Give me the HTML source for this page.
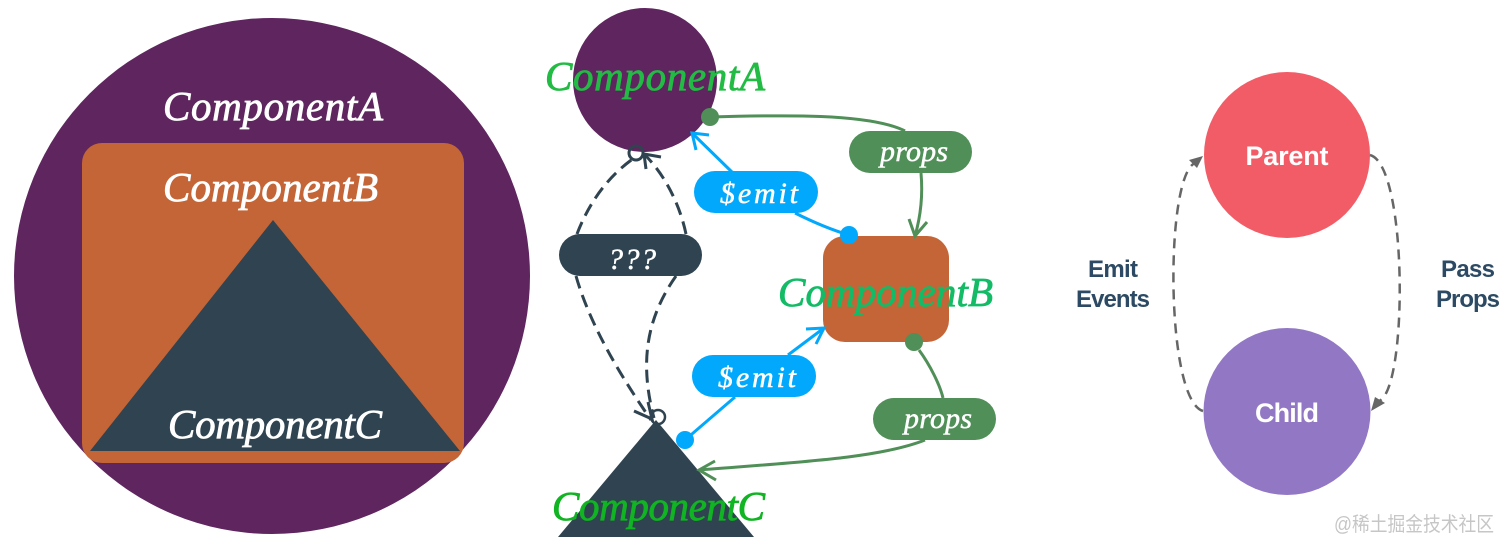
<!DOCTYPE html>
<html><head><meta charset="utf-8"><style>
html,body{margin:0;padding:0;background:#fff;width:1512px;height:551px;overflow:hidden}
svg{display:block}
.h{font-family:"Liberation Serif",serif;font-style:italic;font-size:41px;stroke-width:.8;}
.w{fill:#fff;stroke:#fff}
.s{font-family:"Liberation Serif",serif;font-style:italic;font-size:30px;fill:#fff;stroke:#fff;stroke-width:.5;text-anchor:middle}
.r{font-family:"Liberation Sans",sans-serif;font-weight:bold;text-anchor:middle}
</style></head><body>
<svg width="1512" height="551" viewBox="0 0 1512 551" xmlns="http://www.w3.org/2000/svg">
<rect width="1512" height="551" fill="#fff"/>
<!-- Left -->
<circle cx="272" cy="276" r="258" fill="#5f255f"/>
<rect x="82" y="143" width="382" height="320" rx="20" fill="#c46538"/>
<polygon points="273,220 90,451 460,451" fill="#2f4350"/>
<text class="h w" x="163" y="120" textLength="220" lengthAdjust="spacing">ComponentA</text>
<text class="h w" x="163" y="201" textLength="215" lengthAdjust="spacing">ComponentB</text>
<text class="h w" x="168" y="438" textLength="214" lengthAdjust="spacing">ComponentC</text>
<!-- Middle shapes -->
<circle cx="645" cy="80" r="72" fill="#5f255f"/>
<circle cx="658" cy="417" r="7" fill="#fff" stroke="#2f4350" stroke-width="2.5"/>
<polygon points="656,420 558,537 754,537" fill="#2f4350"/>
<rect x="823" y="236" width="126" height="106" rx="22" fill="#c46538"/>
<!-- Dashed -->
<g fill="none" stroke="#2f4350" stroke-width="3" stroke-dasharray="13 7">
<path d="M577 234 C590 200 610 175 634 158"/>
<path d="M686 234 C680 205 665 175 645 155"/>
<path d="M576 276 C590 325 620 375 651 420"/>
<path d="M676 276 C645 320 640 365 654 418"/>
</g>
<g fill="none" stroke="#2f4350" stroke-width="3">
<circle cx="636" cy="153" r="7"/>
<path d="M646 169 L644 154 L661 157"/>
<path d="M634 411 L652 419 L648 402"/>
</g>
<!-- Blue -->
<g fill="none" stroke="#02a8fb" stroke-width="3">
<path d="M735 175 L692 133"/>
<path d="M709 135 L692 133 L696 150"/>
<path d="M795 213 Q825 228 849 235"/>
<path d="M685 440 L735 397"/>
<path d="M788 355 L824 328"/>
<path d="M806 329 L824 328 L816 344"/>
</g>
<circle cx="849" cy="235" r="9" fill="#02a8fb"/>
<circle cx="685" cy="440" r="9" fill="#02a8fb"/>
<!-- Green -->
<g fill="none" stroke="#508f58" stroke-width="3">
<path d="M710 117 C780 115 870 113 905 131"/>
<path d="M921 173 C923 195 921 215 915 236"/>
<path d="M909 219 L915 236 L927 222"/>
<path d="M919 350 C930 365 940 385 943 398"/>
<path d="M925 440 C880 458 800 462 699 470"/>
<path d="M715 461 L699 470 L716 480"/>
</g>
<circle cx="710" cy="117" r="9" fill="#508f58"/>
<circle cx="914" cy="342" r="9" fill="#508f58"/>
<!-- Pills -->
<rect x="559" y="234" width="143" height="42" rx="21" fill="#2f4350"/>
<rect x="694" y="171" width="124" height="42" rx="21" fill="#02a8fb"/>
<rect x="849" y="131" width="123" height="42" rx="21" fill="#508f58"/>
<rect x="692" y="355" width="124" height="42" rx="21" fill="#02a8fb"/>
<rect x="873" y="398" width="123" height="42" rx="21" fill="#508f58"/>
<text class="s" x="632" y="269" textLength="48" lengthAdjust="spacing">???</text>
<text class="s" x="759" y="203" textLength="78" lengthAdjust="spacing">$emit</text>
<text class="s" x="914" y="161" textLength="68" lengthAdjust="spacing">props</text>
<text class="s" x="757" y="387" textLength="78" lengthAdjust="spacing">$emit</text>
<text class="s" x="938" y="428" textLength="68" lengthAdjust="spacing">props</text>
<!-- Middle labels -->
<text class="h" x="545" y="90" textLength="220" lengthAdjust="spacing" fill="#22bb44" stroke="#22bb44">ComponentA</text>
<text class="h" x="778" y="306" textLength="215" lengthAdjust="spacing" fill="#14bb66" stroke="#14bb66">ComponentB</text>
<text class="h" x="552" y="520" textLength="213" lengthAdjust="spacing" fill="#11b422" stroke="#11b422">ComponentC</text>
<!-- Right -->
<circle cx="1287" cy="155" r="83" fill="#f25c66"/>
<circle cx="1287" cy="411.5" r="83.5" fill="#9278c4"/>
<text class="r" x="1287" y="165" font-size="27" fill="#fff" textLength="83">Parent</text>
<text class="r" x="1287" y="422" font-size="27" fill="#fff" textLength="64">Child</text>
<g fill="none" stroke="#666" stroke-width="2.5" stroke-dasharray="10 7">
<path d="M1203 411 C1165 400 1165 175 1195 163"/>
<path d="M1370 155 C1408 165 1408 390 1379 401"/>
</g>
<polygon points="1203,156 1189,160 1197,168" fill="#666"/>
<polygon points="1371,411 1375,397 1385,403" fill="#666"/>
<g class="r" font-size="24" fill="#2c4a63">
<text x="1113" y="277" textLength="50">Emit</text>
<text x="1113" y="307" textLength="74">Events</text>
<text x="1468" y="277" textLength="54">Pass</text>
<text x="1468" y="307" textLength="64">Props</text>
</g>
<text x="1334" y="531" font-size="20" fill="#c6c6c6" textLength="160" lengthAdjust="spacingAndGlyphs" font-family="'Liberation Sans','Noto Sans CJK SC',sans-serif">@稀土掘金技术社区</text>
</svg>
</body></html>
